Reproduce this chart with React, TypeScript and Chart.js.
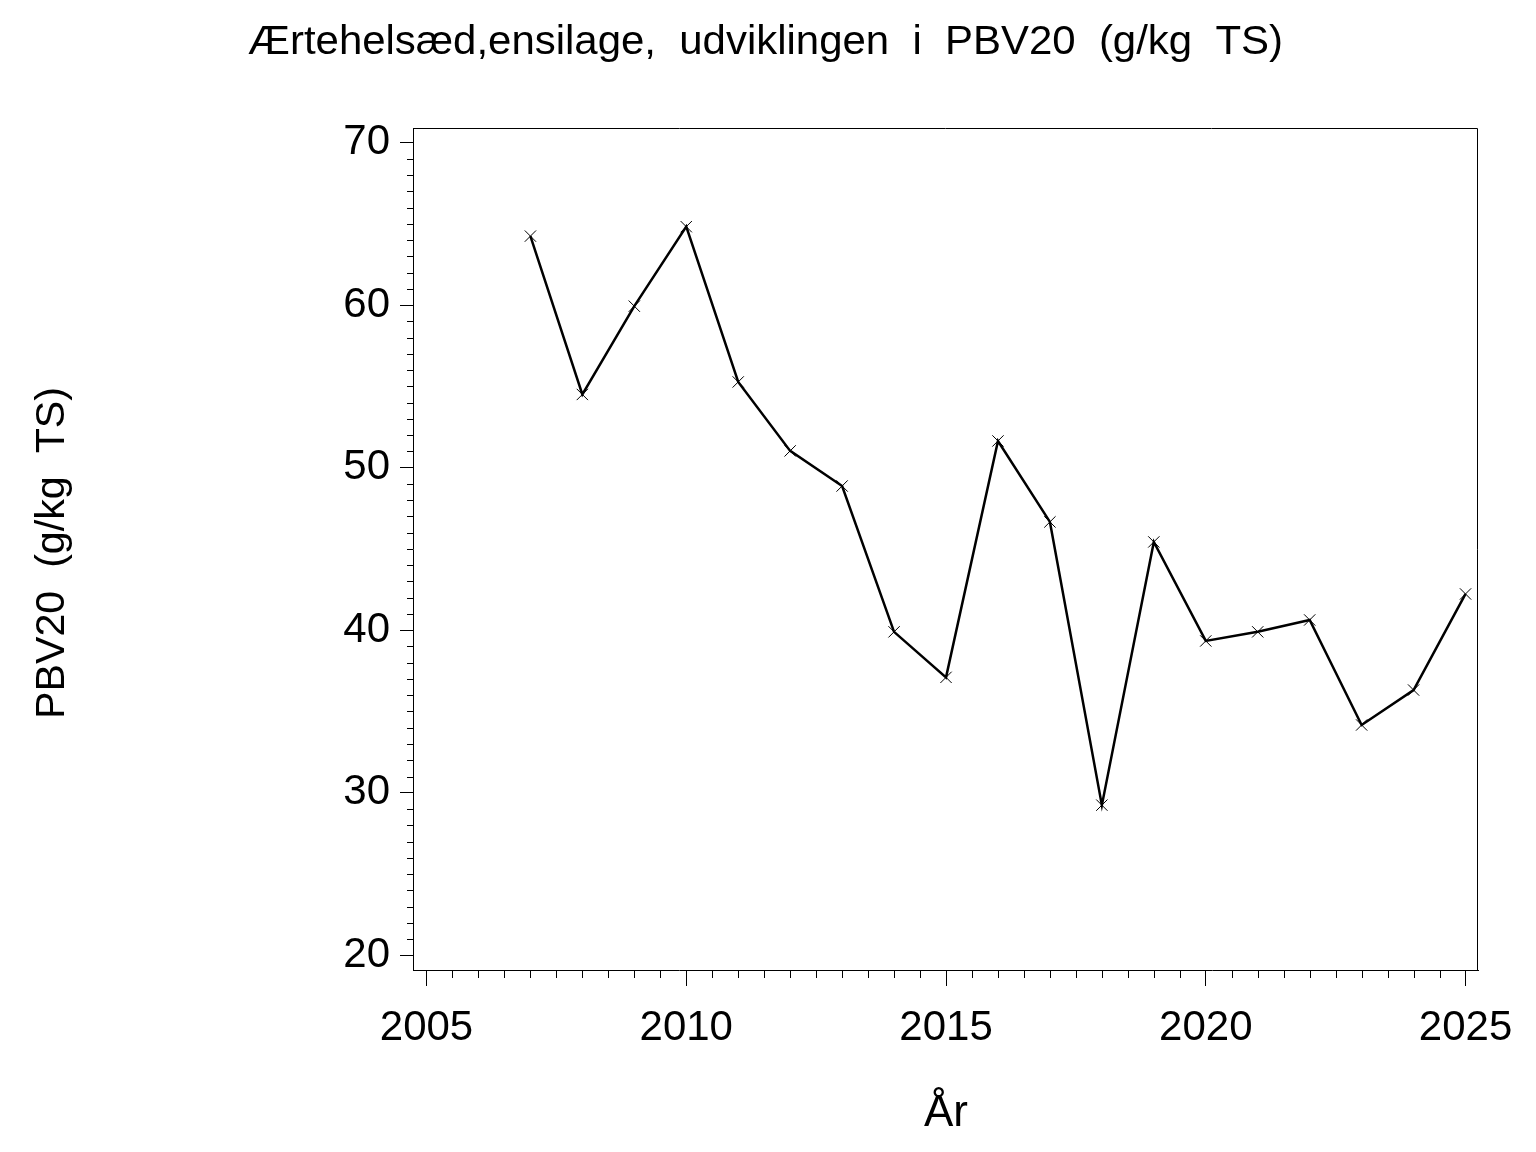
import React, { useEffect, useRef } from "react";
import { Chart, registerables } from "chart.js";

Chart.register(...registerables);

const years = [2007, 2008, 2009, 2010, 2011, 2012, 2013, 2014, 2015, 2016, 2017, 2018, 2019, 2020, 2021, 2022, 2023, 2024, 2025];
const pbv20 = [64.24, 54.5, 59.93, 64.82, 55.27, 51.03, 48.87, 39.9, 37.1, 51.64, 46.66, 29.24, 45.43, 39.34, 39.9, 40.63, 34.17, 36.32, 42.23];
const xTicks = [2005, 2010, 2015, 2020, 2025];
const yTicks = [20, 30, 40, 50, 60, 70];

const titleText = "Ærtehelsæd,ensilage,  udviklingen  i  PBV20  (g/kg  TS)";
const yTitleText = "PBV20  (g/kg  TS)";
const xTitleText = "År";
const FONT = "'Liberation Sans', Arial, sans-serif";

const decorPlugin = {
  id: "decor",
  afterDraw(chart: any) {
    const ctx = chart.ctx as CanvasRenderingContext2D;
    const { left, right, top, bottom } = chart.chartArea;
    const xs = chart.scales.x;
    const ys = chart.scales.y;
    ctx.save();
    ctx.strokeStyle = "#000";
    ctx.lineWidth = 1;
    // frame
    ctx.beginPath();
    ctx.moveTo(left + 0.5, top + 0.5);
    ctx.lineTo(right - 0.5, top + 0.5);
    ctx.lineTo(right - 0.5, bottom);
    ctx.stroke();
    // minor y ticks
    ctx.beginPath();
    for (let v = 20; v <= 70; v += 1) {
      if (v % 10 === 0) continue;
      const py = Math.round(ys.getPixelForValue(v)) + 0.5;
      ctx.moveTo(left - 6, py);
      ctx.lineTo(left, py);
    }
    // minor x ticks
    for (let v = 2005; v <= 2025; v += 0.5) {
      if (v % 5 === 0) continue;
      const px = Math.round(xs.getPixelForValue(v)) + 0.5;
      ctx.moveTo(px, bottom);
      ctx.lineTo(px, bottom + 8);
    }
    ctx.stroke();

    ctx.fillStyle = "#000";
    // main title
    ctx.font = `40px ${FONT}`;
    ctx.textAlign = "left";
    ctx.textBaseline = "alphabetic";
    const tw = ctx.measureText(titleText).width;
    ctx.save();
    ctx.translate(248, 54);
    ctx.scale(1035 / tw, 1);
    ctx.fillText(titleText, 0, 0);
    ctx.restore();

    // y title
    ctx.font = `41px ${FONT}`;
    const yw = ctx.measureText(yTitleText).width;
    ctx.save();
    ctx.translate(64, 553);
    ctx.rotate(-Math.PI / 2);
    ctx.scale(332 / yw, 1);
    ctx.textAlign = "center";
    ctx.fillText(yTitleText, 0, 0);
    ctx.restore();

    // x title
    ctx.font = `44px ${FONT}`;
    ctx.textAlign = "center";
    ctx.fillText(xTitleText, 946, 1126);
    ctx.restore();
  },
};

export default function App() {
  const ref = useRef<HTMLCanvasElement>(null);
  useEffect(() => {
    if (!ref.current) return;
    const points = years.map((y, i) => ({ x: y, y: pbv20[i] }));
    const chart = new Chart(ref.current, {
      type: "line",
      data: {
        datasets: [
          {
            data: points,
            borderColor: "#000",
            backgroundColor: "#000",
            borderWidth: 2.5,
            pointStyle: "crossRot",
            pointRadius: 8,
            pointBorderWidth: 1,
            pointBorderColor: "#000",
            tension: 0,
          },
        ],
      },
      plugins: [decorPlugin],
      options: {
        animation: false,
        responsive: false,
        devicePixelRatio: 1,
        layout: { padding: { top: 128, right: 58, left: 0, bottom: 0 } },
        plugins: { legend: { display: false }, tooltip: { enabled: false }, title: { display: false } },
        scales: {
          x: {
            type: "linear",
            min: 2004.74,
            max: 2025.24,
            afterFit: (s: any) => { s.height = 182; },
            afterBuildTicks: (s: any) => { s.ticks = xTicks.map((v) => ({ value: v })); },
            ticks: { color: "#000", font: { family: FONT, size: 42 }, padding: 17, maxRotation: 0, autoSkip: false, callback: (v: any) => String(v) },
            grid: { display: true, drawOnChartArea: false, drawTicks: true, tickLength: 16, color: "#000", tickColor: "#000", lineWidth: 1 },
            border: { display: true, color: "#000", width: 1 },
          },
          y: {
            type: "linear",
            min: 19.1,
            max: 70.89,
            afterFit: (s: any) => { s.width = 413; },
            afterBuildTicks: (s: any) => { s.ticks = yTicks.map((v) => ({ value: v })); },
            ticks: { color: "#000", font: { family: FONT, size: 42 }, padding: 10, autoSkip: false },
            grid: { display: true, drawOnChartArea: false, drawTicks: true, tickLength: 13, color: "#000", tickColor: "#000", lineWidth: 1 },
            border: { display: true, color: "#000", width: 1 },
          },
        },
      },
    });
    return () => chart.destroy();
  }, []);
  return (
    <div style={{ position: "absolute", left: 0, top: 0, width: 1536, height: 1152, background: "#fff" }}>
      <canvas ref={ref} width={1536} height={1152} style={{ width: 1536, height: 1152 }} />
    </div>
  );
}
